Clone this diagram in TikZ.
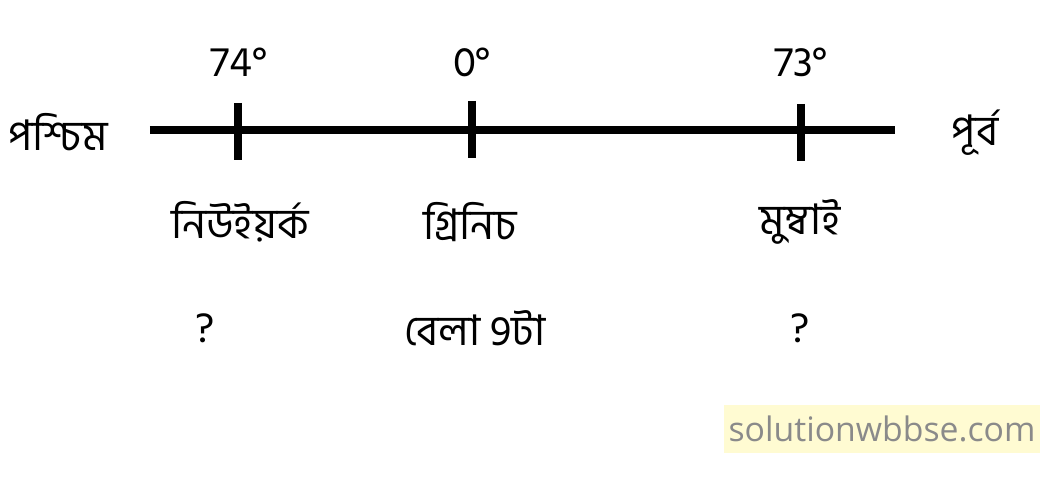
\documentclass[tikz,border=0pt]{standalone}
\usepackage{fontspec}
\setmainfont[Script=Bengali]{Hind Siliguri}
\newfontfamily\webfont{Open Sans}
\usetikzlibrary{positioning}
\definecolor{markyellow}{HTML}{FFFBD2}
\definecolor{markgray}{HTML}{8A8A8A}
\tikzset{lbl/.style={font=\fontsize{12pt}{14pt}\selectfont, inner sep=0pt}}

\begin{document}
\begin{tikzpicture}[x=0.01cm, y=-0.01cm]
    \useasboundingbox (0,0) rectangle (1056,496);
    \coordinate (west) at (150,130);
    \coordinate (east) at (895,130);
    \coordinate (ny) at (238,131);
    \coordinate (gr) at (472,129);
    \coordinate (mu) at (801,132);
    \draw[line width=2.4pt] (west) -- (east);
    \foreach \p in {ny,gr,mu}
        \draw[line width=2.4pt] ([yshift=0.28cm]\p) -- ([yshift=-0.29cm]\p);
    \node(w)[lbl] at (58,132) {পশ্চিম};
    \node(e)[lbl] at (975,133) {পূর্ব};
    \node(d74)[lbl] at (239,62) {74°};
    \node(d0)[lbl] at (472,62) {0°};
    \node(d73)[lbl] at (801,62) {73°};
    \node(nyname)[lbl] at (240,222) {নিউইয়র্ক};
    \node(grname)[lbl] at (470,222) {গ্রিনিচ};
    \node(muname)[lbl] at (800,222) {মুম্বাই};
    \node(nytime)[lbl] at (205,328) {?};
    \node(grtime)[lbl] at (475,328) {বেলা 9টা};
    \node(mutime)[lbl] at (800,328) {?};
    \node(mark)[fill=markyellow, text=markgray, font=\webfont\fontsize{9.6pt}{12pt}\selectfont,
        minimum width=3.15cm, minimum height=0.47cm, inner sep=0pt] at (882,429) {solutionwbbse.com};
\end{tikzpicture}
\end{document}
